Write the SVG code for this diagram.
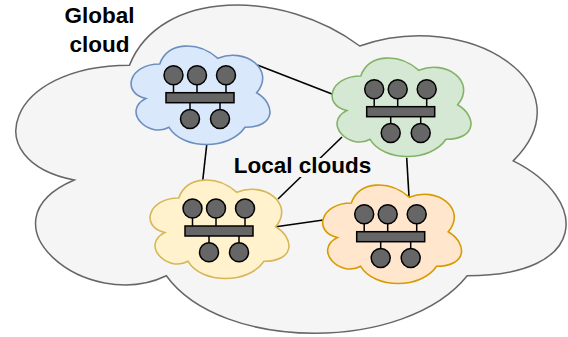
<svg xmlns="http://www.w3.org/2000/svg" width="568" height="337" viewBox="0 0 568 337">
  <style>
    .lbl { font-family: "Liberation Sans", Arial, Helvetica, sans-serif; font-weight: bold; font-size: 22.5px; fill: #000000; text-anchor: middle; }
    .link { stroke: #000000; stroke-width: 1.6; fill: none; }
    .dev { fill: #666666; stroke: #000000; stroke-width: 1.5; }
    .tick { stroke: #000000; stroke-width: 1.5; }
    .local { stroke-width: 1.6; }
  </style>
  <defs>
    <!-- local cloud outline, 155 x 115 box -->
    <path id="cloudShape" d="M38.75,28.75 C7.75,28.75 0,57.5 24.8,63.25 C0,75.9 27.9,103.5 48.05,92 C62,115 108.5,115 124,92 C155,92 155,69 135.625,57.5 C155,34.5 124,11.5 96.875,23 C77.5,5.75 46.5,5.75 38.75,28.75 Z"/>
    <!-- bus network icon: bar with three hosts above and two below -->
    <g id="busNet">
      <line class="tick" x1="7.5" y1="-8" x2="7.5" y2="0"/>
      <line class="tick" x1="31" y1="-8" x2="31" y2="0"/>
      <line class="tick" x1="60" y1="-8" x2="60" y2="0"/>
      <line class="tick" x1="24" y1="10" x2="24" y2="17"/>
      <line class="tick" x1="54" y1="10" x2="54" y2="17"/>
      <rect class="dev" x="0" y="0" width="68" height="10"/>
      <circle class="dev" cx="7.5" cy="-17.5" r="9.5"/>
      <circle class="dev" cx="31" cy="-17.5" r="9.5"/>
      <circle class="dev" cx="60" cy="-17.5" r="9.5"/>
      <circle class="dev" cx="24" cy="26.3" r="9.5"/>
      <circle class="dev" cx="54" cy="26.3" r="9.5"/>
    </g>
  </defs>

  <!-- global cloud -->
  <g id="global-cloud">
    <path d="M129.5,65.15 C6.7,65.15 -24,160.9 74.24,180.05 C-24,222.18 86.52,314.1 166.34,275.8 C221.6,352.4 405.8,352.4 467.2,275.8 C590,275.8 590,199.2 513.25,160.9 C590,84.3 467.2,7.7 359.75,46 C283,-11.45 160.2,-11.45 129.5,65.15 Z" fill="#f5f5f5" stroke="#666666" stroke-width="1.5"/>
    <text class="lbl" x="99.5" y="22.7">Global</text>
    <text class="lbl" x="99.5" y="51.7">cloud</text>
  </g>

  <!-- links between local clouds -->
  <g id="connectors">
    <line class="link" x1="257.3" y1="65" x2="332.7" y2="94.3"/>
    <line class="link" x1="206.7" y1="145" x2="202.7" y2="180.7"/>
    <line class="link" x1="342" y1="137" x2="278" y2="199"/>
    <line class="link" x1="406.7" y1="157.7" x2="409" y2="196.7"/>
    <line class="link" x1="276" y1="226.7" x2="323.3" y2="220"/>
  </g>

  <g id="local-label">
    <rect x="231" y="158" width="143" height="19" fill="#f5f5f5"/>
    <text class="lbl" x="302.5" y="173.3">Local clouds</text>
  </g>

  <g id="local-blue">
    <use href="#cloudShape" class="local" transform="translate(121,35.3)" fill="#dae8fc" stroke="#6c8ebf"/>
    <use href="#busNet" transform="translate(166,92.7)"/>
  </g>

  <g id="local-green">
    <use href="#cloudShape" class="local" transform="translate(322,47.3)" fill="#d5e8d4" stroke="#82b366"/>
    <use href="#busNet" transform="translate(366.7,106.7)"/>
  </g>

  <g id="local-yellow">
    <use href="#cloudShape" class="local" transform="translate(140,169.3)" fill="#fff2cc" stroke="#d6b656"/>
    <use href="#busNet" transform="translate(185,226)"/>
  </g>

  <g id="local-orange">
    <use href="#cloudShape" class="local" transform="translate(312.6,174.3)" fill="#ffe6cc" stroke="#d79b00"/>
    <use href="#busNet" transform="translate(356.7,231.7)"/>
  </g>
</svg>
